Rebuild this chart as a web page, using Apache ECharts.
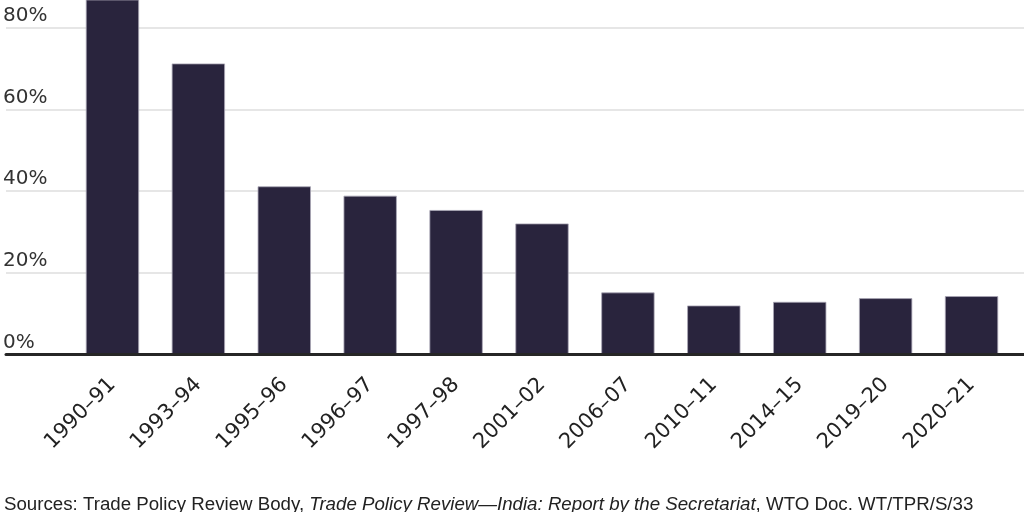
<!DOCTYPE html>
<html>
<head>
<meta charset="utf-8">
<script src="https://cdn.jsdelivr.net/npm/echarts@6/dist/echarts.min.js"></script>
<style>html,body{margin:0;padding:0;background:#fff}#c{width:1024px;height:512px}</style>
</head>
<body>
<div id="c"></div>
<script>
const categories = ['1990–91','1993–94','1995–96','1996–97','1997–98','2001–02','2006–07','2010–11','2014–15','2019–20','2020–21'];
const tariffValues = [125, 71.3, 41.2, 38.9, 35.4, 32.1, 15.2, 12.0, 12.9, 13.8, 14.3];
const yTicks = [0, 20, 40, 60, 80];
const yMaxVisible = 86.86;
const sourceText = 'Sources: Trade Policy Review Body, ';
const sourceItalic = 'Trade Policy Review—India: Report by the Secretariat';
const sourceTail = ', WTO Doc. WT/TPR/S/33';

const chart = echarts.init(document.getElementById('c'), null, {renderer: 'canvas'});
const TOP = 0, BOTTOM = 157.5;
chart.setOption({
  animation: false,
  backgroundColor: '#ffffff',
  grid: [
    {left: 0, right: 0, top: TOP, bottom: BOTTOM, containLabel: false},
    {left: 69.5, right: 9.5, top: TOP, bottom: BOTTOM, containLabel: false}
  ],
  xAxis: [
    {gridIndex: 0, type: 'value', min: 0, max: 1, show: true, z: 10,
     axisLine: {show: true, onZero: false, lineStyle: {color: '#262626', width: 3}},
     axisTick: {show: false}, axisLabel: {show: false}, splitLine: {show: false}},
    {gridIndex: 1, type: 'category', data: categories,
     axisLine: {show: false}, axisTick: {show: false},
     axisLabel: {rotate: 45, margin: 27, fontSize: 21, color: '#222',
                 fontFamily: 'DejaVu Sans', interval: 0}}
  ],
  yAxis: [
    {gridIndex: 0, type: 'value', min: yTicks[0], max: yMaxVisible, interval: 20, offset: 3,
     axisLine: {show: false}, axisTick: {show: false},
     axisLabel: {inside: true, align: 'left', verticalAlign: 'bottom', margin: 0,
                 showMaxLabel: false,
                 padding: [0, 0, 2, 0], fontSize: 20, color: '#333', fontFamily: 'DejaVu Sans',
                 formatter: v => (yTicks.indexOf(v) >= 0 ? v + '%' : '')},
     splitLine: {show: true, showMaxLine: false, lineStyle: {color: '#e6e6e6', width: 2}}},
    {gridIndex: 1, type: 'value', min: yTicks[0], max: yMaxVisible, interval: 20, show: false,
     splitLine: {show: false}}
  ],
  series: [{
    type: 'bar', xAxisIndex: 1, yAxisIndex: 1, data: tariffValues,
    barWidth: '62%', clip: true,
    itemStyle: {color: '#29243d', borderColor: '#a9a6b5', borderWidth: 0.8}
  }],
  graphic: [{
    type: 'text', left: 4, top: 495,
    style: {
      text: '{n|' + sourceText + '}{i|' + sourceItalic + '}{n|' + sourceTail + '}',
      rich: {
        n: {fontSize: 18.7, fontFamily: 'Liberation Sans', fill: '#222'},
        i: {fontSize: 18.7, fontFamily: 'Liberation Sans', fontStyle: 'italic', fill: '#222'}
      }
    }
  }]
});
</script>
</body>
</html>
